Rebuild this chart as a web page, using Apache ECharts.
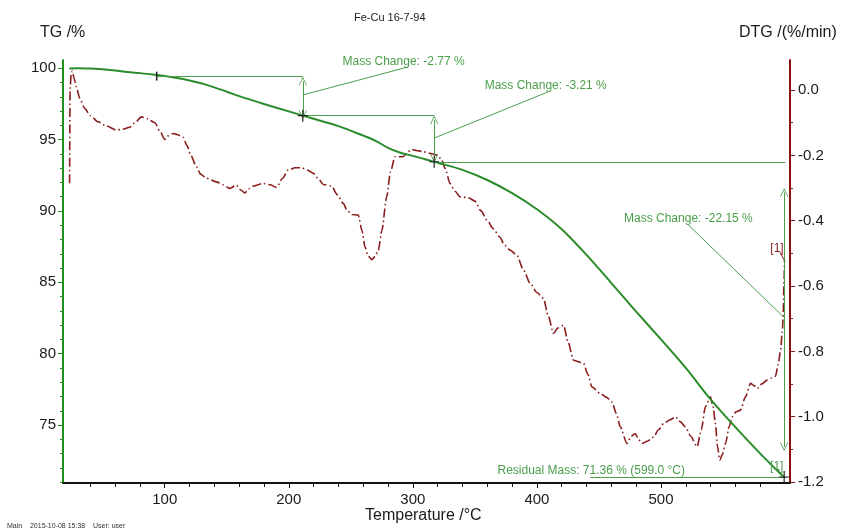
<!DOCTYPE html>
<html><head><meta charset="utf-8">
<script src="https://cdn.jsdelivr.net/npm/echarts@6/dist/echarts.min.js"></script>
<style>html,body{margin:0;padding:0;background:#fff}#c{width:843px;height:532px}</style>
</head><body><div id="c"></div>
<script>
// ---- data ----
const tgTemp = [23, 30, 40, 47, 60, 70, 80, 90, 100, 110, 120, 130, 140, 150, 160, 180, 200, 220, 240, 260, 270, 280, 290, 300, 310, 320, 340, 360, 380, 400, 420, 440, 460, 480, 500, 520, 540, 560, 580, 599];
const tgMass = [99.98, 100.0, 99.98, 99.95, 99.84, 99.74, 99.66, 99.57, 99.46, 99.32, 99.15, 98.93, 98.66, 98.36, 98.05, 97.5, 96.98, 96.46, 95.95, 95.28, 94.92, 94.42, 94.08, 93.86, 93.63, 93.38, 92.88, 92.17, 91.25, 90.12, 88.72, 86.92, 84.95, 82.95, 81.0, 79.0, 76.8, 74.85, 73.0, 71.36];

const dtgTemp = [23.3, 23.7, 24.6, 25.5, 27, 28.7, 31.5, 35.4, 40, 46.2, 53, 61, 66, 71.8, 76, 81.2, 86, 92, 96, 100, 103, 106.7, 110, 114.8, 118, 121, 125.6, 129, 133.6, 141.7, 147, 152.4, 157.8, 161, 164.5, 168, 171.3, 179.3, 185, 190.1, 195, 199.5, 205, 210.3, 215, 219.7, 224, 227.8, 234.5, 239, 243.9, 247, 250.7, 256, 259, 261.4, 264, 266.8, 269.5, 272.2, 275, 278.9, 282, 285.6, 292.3, 295.5, 299.1, 303, 308.5, 316.5, 320, 323.3, 326, 330, 334, 338.1, 345, 350, 355, 360, 365, 370, 374, 378.4, 383.8, 389, 394.6, 400, 405.3, 409, 413.4, 417, 421.5, 425, 429.5, 437.6, 441, 444.4, 451.1, 456, 460.5, 464, 467.2, 472.6, 476, 479.3, 482, 484.7, 489, 494.1, 498, 502.2, 507, 511.6, 515.5, 519.7, 524, 529.1, 532.5, 535.8, 539.9, 542, 543.9, 545.5, 547.4, 549.5, 552, 555, 557.4, 560.5, 564.1, 568, 572.2, 575, 577.6, 581, 585.6, 589, 592.3, 594.5, 596.4, 597.8, 598.5, 599.1, 599.6];
const dtgRate = [-0.285, 0.0, 0.05, 0.058, 0.035, 0.01, -0.025, -0.056, -0.078, -0.097, -0.11, -0.1225, -0.12, -0.114, -0.1, -0.082, -0.088, -0.1, -0.125, -0.151, -0.14, -0.133, -0.136, -0.145, -0.17, -0.2, -0.235, -0.258, -0.27, -0.281, -0.29, -0.301, -0.291, -0.305, -0.315, -0.302, -0.294, -0.286, -0.29, -0.298, -0.27, -0.245, -0.238, -0.238, -0.245, -0.255, -0.272, -0.289, -0.294, -0.32, -0.347, -0.368, -0.381, -0.383, -0.43, -0.48, -0.508, -0.519, -0.51, -0.49, -0.43, -0.327, -0.25, -0.204, -0.204, -0.19, -0.182, -0.185, -0.189, -0.196, -0.2, -0.214, -0.24, -0.286, -0.31, -0.327, -0.33, -0.34, -0.37, -0.4, -0.425, -0.45, -0.475, -0.49, -0.505, -0.55, -0.592, -0.62, -0.638, -0.69, -0.745, -0.728, -0.72, -0.77, -0.827, -0.837, -0.87, -0.909, -0.929, -0.94, -0.955, -0.99, -1.031, -1.082, -1.06, -1.052, -1.07, -1.082, -1.075, -1.062, -1.04, -1.021, -1.01, -1.001, -1.015, -1.031, -1.06, -1.092, -1.04, -0.97, -0.939, -0.97, -1.021, -1.09, -1.133, -1.115, -1.082, -1.03, -1.001, -0.985, -0.98, -0.94, -0.898, -0.905, -0.914, -0.9, -0.888, -0.882, -0.876, -0.84, -0.796, -0.74, -0.694, -0.6, -0.521];

const xMajorTicks = [100, 200, 300, 400, 500];
const xMinorTicks = [40, 60, 80, 120, 140, 160, 180, 220, 240, 260, 280, 320, 340, 360, 380, 420, 440, 460, 480, 520, 540, 560, 580];
const tgMajorTicks = [75, 80, 85, 90, 95, 100];
const tgMinorTicks = [71, 72, 73, 74, 76, 77, 78, 79, 81, 82, 83, 84, 86, 87, 88, 89, 91, 92, 93, 94, 96, 97, 98, 99];
const dtgMajorTicks = [0, -0.2, -0.4, -0.6, -0.8, -1.0, -1.2];
const dtgMinorTicks = [-0.1, -0.3, -0.5, -0.7, -0.9, -1.1];

// evaluation annotations (data coordinates)
const stepTemps = [93.5, 211.3, 317.2, 599.3];
const stepLevels = [99.45, 96.68, 93.45, 71.36];
const massChangeTexts = ['Mass Change: -2.77 %', 'Mass Change: -3.21 %', 'Mass Change: -22.15 %'];
const residualText = 'Residual Mass: 71.36 % (599.0 °C)';

// ---- chart ----
const FONT = 'Liberation Sans, Arial, sans-serif';
const GREEN = '#2b8c2b';
const ANN = '#4a9e4a';
const RED = '#8c1c1c';
const pair = (xs, ys) => xs.map((x, i) => [x, ys[i]]);
const chevron = 'path://M0,0 L5,9 L4.2,9.5 L0,1.8 L-4.2,9.5 L-5,9 Z';
const cross = 'path://M-0.6,-6 L0.6,-6 L0.6,6 L-0.6,6 Z M-5,-0.6 L5,-0.6 L5,0.6 L-5,0.6 Z';
const vtick = 'path://M-0.6,-5 L0.6,-5 L0.6,5 L-0.6,5 Z';

const seg = (a, b, sa, sb) => [{coord: a, symbol: sa || 'none'}, {coord: b, symbol: sb || 'none'}];
const textPt = (c, t, col) => ({coord: c, symbol: 'circle', symbolSize: 1, itemStyle: {color: 'rgba(0,0,0,0)'},
  label: {show: true, position: 'inside', formatter: t, color: col || ANN, fontSize: 12, fontFamily: FONT}});

const chart = echarts.init(document.getElementById('c'), null, {renderer: 'canvas'});
const xCommon = {type: 'value', min: 18, max: 604, splitLine: {show: false}};
const yL = {type: 'value', min: 70.94, max: 100.58, splitLine: {show: false}};
const yR = {type: 'value', min: -1.203, max: 0.092, splitLine: {show: false}};

chart.setOption({
  animation: false,
  backgroundColor: '#fff',
  textStyle: {fontFamily: FONT},
  grid: {left: 63, right: 53, top: 60, bottom: 49, outerBoundsMode: 'none'},
  graphic: [
    {type: 'text', left: 354, top: 12, style: {text: 'Fe-Cu 16-7-94', fontSize: 11, fill: '#222', fontFamily: FONT}},
    {type: 'text', left: 40, top: 25, style: {text: 'TG /%', fontSize: 16, fill: '#1a1a1a', fontFamily: FONT}},
    {type: 'text', left: 739, top: 25, style: {text: 'DTG /(%/min)', fontSize: 16, fill: '#1a1a1a', fontFamily: FONT}},
    {type: 'text', left: 365, top: 508, style: {text: 'Temperature /°C', fontSize: 16, fill: '#1a1a1a', fontFamily: FONT}},
    {type: 'text', left: 7, top: 523, style: {text: 'Main    2015-10-08 15:38    User: user', fontSize: 7, fill: '#333', fontFamily: FONT}}
  ],
  xAxis: [
    Object.assign({}, xCommon, {position: 'bottom',
      axisLine: {show: true, onZero: false, lineStyle: {color: '#111', width: 2}},
      axisTick: {show: true, length: 5, customValues: xMajorTicks, lineStyle: {color: '#111', width: 1}},
      axisLabel: {show: true, customValues: xMajorTicks, fontSize: 15, color: '#1a1a1a', margin: 9, fontFamily: FONT}}),
    Object.assign({}, xCommon, {position: 'bottom',
      axisLine: {show: false, onZero: false},
      axisTick: {show: true, length: 4, customValues: xMinorTicks, lineStyle: {color: '#111', width: 1}},
      axisLabel: {show: false}})
  ],
  yAxis: [
    Object.assign({}, yL, {position: 'left',
      axisLine: {show: true, onZero: false, lineStyle: {color: '#1f901f', width: 2}},
      axisTick: {show: true, length: 5, customValues: tgMajorTicks, lineStyle: {color: '#1f901f', width: 1}},
      axisLabel: {show: true, customValues: tgMajorTicks, fontSize: 15, color: '#1a1a1a', margin: 7, fontFamily: FONT}}),
    Object.assign({}, yR, {position: 'right',
      axisLine: {show: true, onZero: false, lineStyle: {color: '#8b1010', width: 2}},
      axisTick: {show: true, length: 5, customValues: dtgMajorTicks, lineStyle: {color: '#8b1010', width: 1}},
      axisLabel: {show: true, customValues: dtgMajorTicks, fontSize: 15, color: '#1a1a1a', margin: 8, fontFamily: FONT,
        formatter: v => Number(v).toFixed(1)}}),
    Object.assign({}, yL, {position: 'left',
      axisLine: {show: false, onZero: false},
      axisTick: {show: true, length: 3, customValues: tgMinorTicks, lineStyle: {color: '#1f901f', width: 1}},
      axisLabel: {show: false}}),
    Object.assign({}, yR, {position: 'right',
      axisLine: {show: false, onZero: false},
      axisTick: {show: true, length: 3, customValues: dtgMinorTicks, lineStyle: {color: '#8b1010', width: 1}},
      axisLabel: {show: false}})
  ],
  series: [
    {
      name: 'TG', type: 'line', xAxisIndex: 0, yAxisIndex: 0, showSymbol: false, smooth: 0.3,
      data: pair(tgTemp, tgMass), z: 3,
      lineStyle: {color: GREEN, width: 2},
      markLine: {
        silent: true, symbol: 'none', symbolSize: [8, 9], label: {show: false},
        lineStyle: {color: ANN, width: 1, type: 'solid'},
        emphasis: {disabled: true},
        data: [
          seg([stepTemps[0], stepLevels[0]], [stepTemps[1], stepLevels[0]]),
          seg([stepTemps[1], stepLevels[1]], [stepTemps[2], stepLevels[1]]),
          seg([stepTemps[2], stepLevels[2]], [stepTemps[3] + 1, stepLevels[2]]),
          seg([443, stepLevels[3]], [stepTemps[3] + 2, stepLevels[3]]),
          seg([stepTemps[1], 99.1], [stepTemps[1], 96.75], chevron, chevron),
          seg([stepTemps[2], 96.37], [stepTemps[2], 93.7], chevron, chevron),
          seg([stepTemps[3], 91.3], [stepTemps[3], 73.48], chevron, chevron),
          seg([stepTemps[1], 98.13], [296.1, 100.09]),
          seg([stepTemps[2], 95.11], [409.4, 98.36]),
          seg([522.1, 89.02], [598.6, 82.59]),
          seg([593.5, 71.95], [598.8, 71.4])
        ]
      },
      markPoint: {
        silent: true,
        data: [
          {coord: [stepTemps[0], stepLevels[0]], symbol: vtick, symbolSize: [1.5, 9], itemStyle: {color: '#222'}, label: {show: false}},
          {coord: [stepTemps[1], stepLevels[1]], symbol: cross, symbolSize: [10, 12], itemStyle: {color: '#222'}, label: {show: false}},
          {coord: [stepTemps[2], stepLevels[2]], symbol: cross, symbolSize: [10, 12], itemStyle: {color: '#222'}, label: {show: false}},
          {coord: [stepTemps[3], stepLevels[3]], symbol: cross, symbolSize: [10, 12], itemStyle: {color: '#222'}, label: {show: false}},
          textPt([292.5, 100.45], massChangeTexts[0]),
          textPt([407.1, 98.76], massChangeTexts[1]),
          textPt([522.1, 89.44], massChangeTexts[2]),
          textPt([443.8, 71.8], residualText),
          textPt([593.3, 72.05], '[1]')
        ]
      }
    },
    {
      name: 'DTG', type: 'line', xAxisIndex: 0, yAxisIndex: 1, showSymbol: false, smooth: 0.25, smoothMonotone: 'x',
      data: pair(dtgTemp, dtgRate), z: 2,
      lineStyle: {color: RED, width: 1.6, type: [9, 3, 1.5, 3]},
      markLine: {
        silent: true, symbol: 'none', label: {show: false},
        lineStyle: {color: RED, width: 1, type: 'solid'},
        data: [seg([596, -0.496], [599.2, -0.52])]
      },
      markPoint: {
        silent: true,
        data: [textPt([593.5, -0.485], '[1]', RED)]
      }
    }
  ]
});
</script>
</body></html>
